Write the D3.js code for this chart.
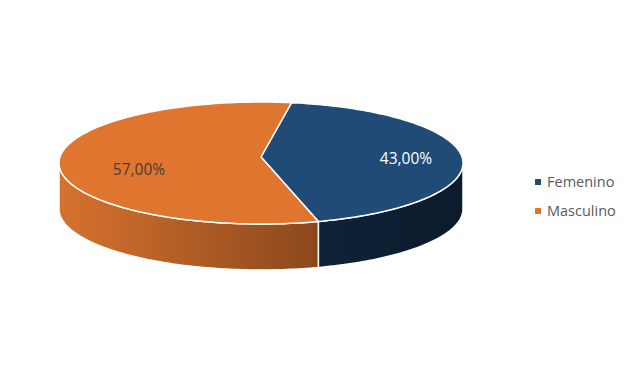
<!DOCTYPE html>
<html>
<head>
<meta charset="utf-8">
<script src="https://cdn.jsdelivr.net/npm/d3@7"></script>
<style>
	body { margin: 0; background: white; }
	svg { display: block; }
</style>
</head>
<body>
<div id="chart"></div>
<script>
var categories = ['Femenino', 'Masculino'];
var values = [43, 57];
var labels = ['43,00%', '57,00%'];

var width = 638;
var height = 388;
var cx = 261;
var cy = 163;
var rx = 202;
var ry = 61;
var apexY = 157;
var depth = 46;
var startAngle = 0.152;

var topColors = ['#1F4B76', '#E0752F'];
var labelColors = ['#FFFFFF', '#404040'];
var sideStops = [['#0E2238', '#0B1B2C'], ['#D6722E', '#8A481C']];
var legendColors = ['#1F4B76', '#E0752F'];

var svg = d3.select('#chart').append('svg')
	.attr('width', width)
	.attr('height', height);

var defs = svg.append('defs');

sideStops.forEach(function(s, i) {
	var grad = defs.append('linearGradient')
		.attr('id', 'side' + i)
		.attr('gradientUnits', 'userSpaceOnUse')
		.attr('x1', i == 0 ? 320 : cx - rx)
		.attr('x2', i == 0 ? cx + rx : 320)
		.attr('y1', 0)
		.attr('y2', 0);
	grad.append('stop').attr('offset', '0%').attr('stop-color', s[0]);
	grad.append('stop').attr('offset', '100%').attr('stop-color', s[1]);
});

var pie = d3.pie().sort(null)
	.startAngle(startAngle)
	.endAngle(startAngle + 2 * Math.PI);

var slices = pie(values);

// point on the ellipse for an angle measured clockwise from 12 o'clock
function px(a) { return cx + rx * Math.sin(a); }
function py(a, dy) { return cy - ry * Math.cos(a) + (dy || 0); }

function arcPoints(a0, a1, dy) {
	var pts = [];
	var n = Math.max(2, Math.ceil(Math.abs(a1 - a0) / 0.02));
	for (var k = 0; k <= n; k++) {
		var a = a0 + (a1 - a0) * k / n;
		pts.push([px(a), py(a, dy)]);
	}
	return pts;
}

function topPath(d) {
	var pts = [[cx, apexY]].concat(arcPoints(d.startAngle, d.endAngle, 0));
	return d3.line()(pts) + 'Z';
}

function sidePath(d) {
	var a0 = Math.max(d.startAngle, Math.PI / 2);
	var a1 = Math.min(d.endAngle, 3 * Math.PI / 2);
	if (a1 <= a0) return null;
	var pts = arcPoints(a0, a1, 0).concat(arcPoints(a1, a0, depth));
	return d3.line()(pts) + 'Z';
}

var g = svg.append('g');

g.selectAll('.side').data(slices).enter().append('path')
	.attr('class', 'side')
	.attr('d', function(d) { return sidePath(d); })
	.attr('fill', function(d, i) { return 'url(#side' + i + ')'; })
	.attr('stroke', 'white')
	.attr('stroke-width', 1.5)
	.attr('stroke-linejoin', 'round');

g.selectAll('.top').data(slices).enter().append('path')
	.attr('class', 'top')
	.attr('d', topPath)
	.attr('fill', function(d, i) { return topColors[i]; })
	.attr('stroke', 'white')
	.attr('stroke-width', 1.5)
	.attr('stroke-linejoin', 'round');

var labelPos = [[406, 164], [139, 175]];

g.selectAll('.label').data(slices).enter().append('text')
	.attr('class', 'label')
	.attr('x', function(d, i) { return labelPos[i][0]; })
	.attr('y', function(d, i) { return labelPos[i][1]; })
	.attr('text-anchor', 'middle')
	.attr('font-family', 'Open Sans, sans-serif')
	.attr('font-size', '15.5px')
	.attr('fill', function(d, i) { return labelColors[i]; })
	.text(function(d, i) { return labels[i]; });

var legend = svg.append('g').attr('transform', 'translate(535,179)');

var item = legend.selectAll('.item').data(categories).enter().append('g')
	.attr('class', 'item')
	.attr('transform', function(d, i) { return 'translate(0,' + (i * 29) + ')'; });

item.append('rect')
	.attr('x', 0)
	.attr('y', 0)
	.attr('width', 6)
	.attr('height', 6)
	.attr('fill', function(d, i) { return legendColors[i]; });

item.append('text')
	.attr('x', 12)
	.attr('y', 8)
	.attr('font-family', 'Open Sans, sans-serif')
	.attr('font-size', '14.5px')
	.attr('fill', '#595959')
	.text(function(d) { return d; });
</script>
</body>
</html>
